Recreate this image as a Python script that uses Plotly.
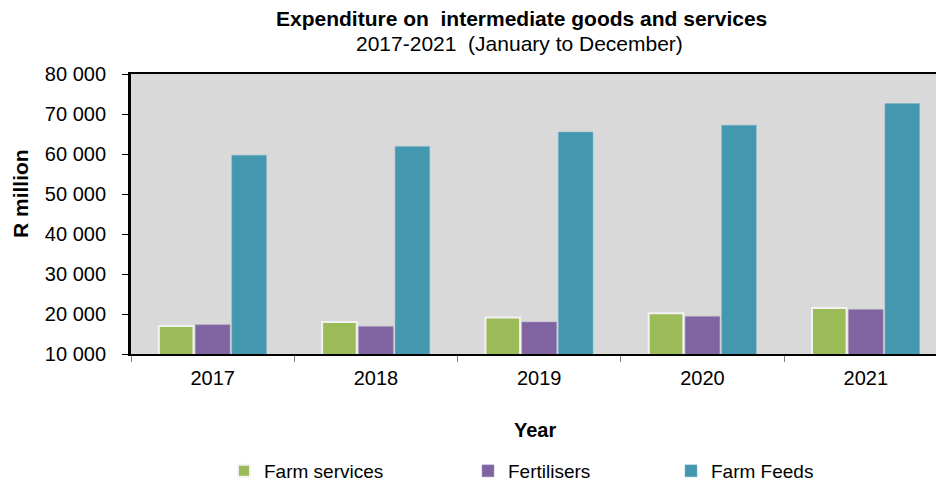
import plotly.graph_objects as go

# Annual expenditure (R million), January to December
years = ["2017", "2018", "2019", "2020", "2021"]
farm_services = [17000, 18000, 19100, 20200, 21500]
fertilisers = [17300, 16900, 18000, 19400, 21100]
farm_feeds = [59700, 61900, 65500, 67200, 72600]

y_ticks = [10000, 20000, 30000, 40000, 50000, 60000, 70000, 80000]
y_tick_labels = ["10 000", "20 000", "30 000", "40 000", "50 000", "60 000", "70 000", "80 000"]

FONT = "Liberation Sans, Arial, sans-serif"

fig = go.Figure()
fig.add_trace(go.Bar(
    x=years, y=farm_services, name="Farm services",
    marker=dict(color="#9BBB59", line=dict(color="#F2F2F2", width=2)),
    legend="legend",
))
fig.add_trace(go.Bar(
    x=years, y=fertilisers, name="Fertilisers",
    marker=dict(color="#8064A2", line=dict(color="#A090B8", width=0.5)),
    legend="legend2",
))
fig.add_trace(go.Bar(
    x=years, y=farm_feeds, name="Farm Feeds",
    marker=dict(color="#4398B0", line=dict(color="#7CB4C6", width=0.5)),
    legend="legend3",
))

L, T, B = 131, 74, 130
W, H = 936, 484
pw = W - L
ph = H - T - B


def px_x(x):
    return (x - L) / pw


def px_y(y):
    return (H - B - y) / ph


legend_common = dict(
    orientation="h", yanchor="middle", xanchor="left",
    font=dict(family=FONT, size=19, color="#000000"),
    bgcolor="rgba(0,0,0,0)", itemwidth=30,
)

fig.update_layout(
    width=W, height=H,
    margin=dict(l=L, r=0, t=T, b=B, autoexpand=False),
    paper_bgcolor="white",
    plot_bgcolor="#D9D9D9",
    barmode="group",
    bargap=0.33,
    bargroupgap=0.05,
    showlegend=True,
    font=dict(family=FONT, size=20, color="#000000"),
    legend=dict(x=px_x(224), y=px_y(471), **legend_common),
    legend2=dict(x=px_x(468), y=px_y(471), **legend_common),
    legend3=dict(x=px_x(671), y=px_y(471), **legend_common),
    xaxis=dict(
        range=[-0.5, 4.43],
        showline=True, linecolor="#000000", linewidth=2, mirror=True,
        ticks="outside", tickson="boundaries", ticklen=6, tickcolor="#808080",
        ticklabelstandoff=5,
        tickfont=dict(family=FONT, size=20),
        showgrid=False,
    ),
    yaxis=dict(
        range=[10000, 80000],
        tickvals=y_ticks, ticktext=y_tick_labels,
        showline=True, linecolor="#000000", linewidth=3,
        ticks="outside", ticklen=6, tickcolor="#000000",
        ticklabelstandoff=12,
        tickfont=dict(family=FONT, size=20),
        showgrid=False, zeroline=False,
    ),
    annotations=[
        dict(text="<b>Expenditure on  intermediate goods and services</b>",
             xref="paper", yref="paper", x=px_x(521), y=px_y(18),
             xanchor="center", yanchor="middle", showarrow=False,
             font=dict(family=FONT, size=21)),
        dict(text="2017-2021  (January to December)",
             xref="paper", yref="paper", x=px_x(519), y=px_y(44),
             xanchor="center", yanchor="middle", showarrow=False,
             font=dict(family=FONT, size=21)),
        dict(text="<b>R million</b>", textangle=-90,
             xref="paper", yref="paper", x=px_x(20), y=px_y(194),
             xanchor="center", yanchor="middle", showarrow=False,
             font=dict(family=FONT, size=21)),
        dict(text="<b>Year</b>",
             xref="paper", yref="paper", x=px_x(535), y=px_y(430),
             xanchor="center", yanchor="middle", showarrow=False,
             font=dict(family=FONT, size=20)),
    ],
)

fig.write_html("out.html")
